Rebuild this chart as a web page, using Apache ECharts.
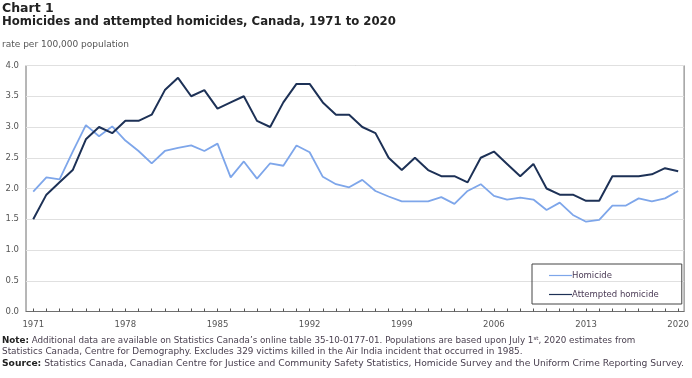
<!DOCTYPE html>
<html>
<head>
<meta charset="utf-8">
<script src="https://cdn.jsdelivr.net/npm/echarts@6/dist/echarts.min.js"></script>
<style>html,body{margin:0;padding:0;background:#fff}#c{width:692px;height:378px}</style>
</head>
<body>
<div id="c"></div>
<script>
const years = [];
for (let y = 1971; y <= 2020; y++) years.push(y);
const homicide = [1.95,2.18,2.15,2.60,3.03,2.85,3.01,2.78,2.61,2.41,2.61,2.66,2.70,2.61,2.73,2.18,2.44,2.16,2.41,2.37,2.70,2.59,2.19,2.07,2.02,
  2.14,1.96,1.87,1.79,1.79,1.79,1.86,1.75,1.96,2.07,1.88,1.82,1.85,1.82,1.65,1.77,1.57,1.46,1.49,1.72,1.72,1.84,1.79,1.84,1.96];
const attempted = [1.5,1.9,2.1,2.3,2.8,3.0,2.9,3.1,3.1,3.2,3.6,3.8,3.5,3.6,3.3,3.4,3.5,3.1,3.0,3.4,3.7,3.7,3.4,3.2,3.2,
  3.0,2.9,2.5,2.3,2.5,2.3,2.2,2.2,2.1,2.5,2.6,2.4,2.2,2.4,2.0,1.9,1.9,1.8,1.8,2.2,2.2,2.2,2.23,2.33,2.28];
const xLabelYears = [1971,1978,1985,1992,1999,2006,2013,2020];
const seriesNames = ['Homicide','Attempted homicide'];
const titleLines = ['Chart 1','Homicides and attempted homicides, Canada, 1971 to 2020'];
const unitText = 'rate per 100,000 population';
const noteLines = [
  '{b|Note:} Additional data are available on Statistics Canada\u2019s online table 35-10-0177-01. Populations are based upon July 1{s|st}, 2020 estimates from',
  'Statistics Canada, Centre for Demography. Excludes 329 victims killed in the Air India incident that occurred in 1985.',
  '{b|Source:} Statistics Canada, Canadian Centre for Justice and Community Safety Statistics, Homicide Survey and the Uniform Crime Reporting Survey.'
];

const FONT = 'DejaVu Sans';
function noteText(txt, top, size) {
  return {type: 'text', left: 2, top: top, style: {
    text: txt, font: size + 'px "DejaVu Sans"', fill: '#4a4050',
    rich: {b: {fontWeight: 'bold', fill: '#222', fontSize: size, fontFamily: FONT}, s: {fontSize: 5.5, fontFamily: FONT, padding: [0,0,4,0]}}
  }};
}
const chart = echarts.init(document.getElementById('c'));
chart.setOption({
  animation: false,
  textStyle: {fontFamily: FONT},
  grid: {left: 26, right: 5, top: 65.5, bottom: 66.5, show: true, borderColor: '#6f6f6f', borderWidth: 1, containLabel: false},
  xAxis: {
    type: 'value', min: 1970.45, max: 2020.45,
    axisLine: {show: true, onZero: false, lineStyle: {color: '#6f6f6f', width: 1}},
    axisTick: {show: true, inside: true, length: 3, customValues: years, lineStyle: {color: '#555'}},
    axisLabel: {customValues: xLabelYears, color: '#555', fontSize: 8.5, fontFamily: FONT, margin: 9, formatter: v => String(v)},
    splitLine: {show: false}
  },
  yAxis: {
    type: 'value', min: 0, max: 4, interval: 0.5,
    axisLine: {show: false}, axisTick: {show: false},
    axisLabel: {color: '#555', fontSize: 8.5, fontFamily: FONT, margin: 7, formatter: v => v.toFixed(1)},
    splitLine: {show: true, lineStyle: {color: '#e0e0e0', width: 1}}
  },
  legend: {
    orient: 'vertical', left: 532, top: 264,
    padding: [7, 23, 5, 17], itemGap: 10,
    borderColor: '#444', borderWidth: 1,
    itemWidth: 23, itemHeight: 6,
    icon: 'path://M0,2.4 L23,2.4 L23,3.6 L0,3.6 Z',
    textStyle: {color: '#4a3a55', fontSize: 8.5, fontFamily: FONT, padding: [0,0,0,-5]},
    data: seriesNames
  },
  series: [
    {name: seriesNames[0], type: 'line', data: years.map((y,i)=>[y, homicide[i]]), showSymbol: false, symbol: 'none',
     lineStyle: {color: '#7ea6ea', width: 1.8}, itemStyle: {color: '#7ea6ea'}},
    {name: seriesNames[1], type: 'line', data: years.map((y,i)=>[y, attempted[i]]), showSymbol: false, symbol: 'none',
     lineStyle: {color: '#1d3156', width: 2}, itemStyle: {color: '#1d3156'}}
  ],
  graphic: [
    {type: 'text', left: 2, top: 2, style: {text: titleLines[0], font: 'bold 12.5px "DejaVu Sans"', fill: '#222'}},
    {type: 'text', left: 2, top: 16, style: {text: titleLines[1], font: 'bold 11.7px "DejaVu Sans"', fill: '#222'}},
    {type: 'text', left: 2, top: 40, style: {text: unitText, font: '9px "DejaVu Sans"', fill: '#555'}},
    noteText(noteLines[0], 336, 8.75),
    noteText(noteLines[1], 347.5, 8.9),
    noteText(noteLines[2], 359, 9.18)
  ]
});
</script>
</body>
</html>
